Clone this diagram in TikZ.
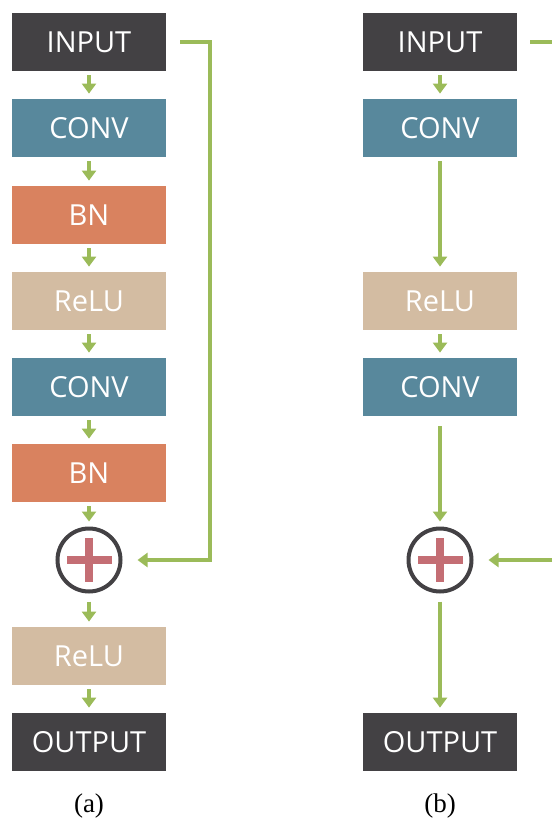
\documentclass[tikz,border=0pt]{standalone}
\usepackage{fontspec}
\setmainfont{Liberation Serif}
\newfontfamily\boxfont{Open Sans}
\usetikzlibrary{arrows.meta}

\definecolor{iodark}{HTML}{434144}
\definecolor{convblue}{HTML}{58889C}
\definecolor{bnorange}{HTML}{D9825F}
\definecolor{relutan}{HTML}{D3BCA2}
\definecolor{arrgreen}{HTML}{9BBB59}
\definecolor{plusred}{HTML}{C46E74}

\tikzset{
    layer/.style={minimum width=77pt, minimum height=29pt, inner sep=0pt,
        text=white, font=\boxfont\fontsize{14.5}{17}\selectfont},
    io/.style={layer, fill=iodark},
    conv/.style={layer, fill=convblue},
    bn/.style={layer, fill=bnorange},
    relu/.style={layer, fill=relutan},
    addnode/.style={circle, draw=iodark, line width=2pt, minimum size=31.5pt, inner sep=0pt,
        path picture={
            \fill[plusred] ([xshift=-11.25pt,yshift=-2pt]path picture bounding box.center) rectangle ++(22.5pt,4pt);
            \fill[plusred] ([xshift=-2pt,yshift=-11pt]path picture bounding box.center) rectangle ++(4pt,22pt);
        }},
    arr/.style={draw=arrgreen, line width=2pt, -{Triangle[width=7pt,length=5pt]},
        shorten <=2pt, shorten >=2.5pt},
    skip/.style={draw=arrgreen, line width=2pt, -{Triangle[width=7pt,length=5pt]}},
    caption/.style={font=\fontsize{13.5}{16}\selectfont}
}

\begin{document}
\begin{tikzpicture}[x=0.5pt, y=-0.5pt]
    \useasboundingbox (0,0) rectangle (552,823);

    % (a) residual block
    \node[io]   (inA)   at (89,42)  {INPUT};
    \node[conv] (cvA1)  at (89,128) {CONV};
    \node[bn]   (bnA1)  at (89,215) {BN};
    \node[relu] (rlA1)  at (89,301) {ReLU};
    \node[conv] (cvA2)  at (89,387) {CONV};
    \node[bn]   (bnA2)  at (89,473) {BN};
    \node[addnode] (addA) at (89,560) {};
    \node[relu] (rlA2)  at (89,656) {ReLU};
    \node[io]   (outA)  at (89,742) {OUTPUT};
    \node[caption] (capA) at (89,806) {(a)};

    \draw[arr] (inA) -- (cvA1);
    \draw[arr] (cvA1) -- (bnA1);
    \draw[arr] (bnA1) -- (rlA1);
    \draw[arr] (rlA1) -- (cvA2);
    \draw[arr] (cvA2) -- (bnA2);
    \draw[arr] (bnA2) -- (addA);
    \draw[arr, shorten <=4pt] (addA) -- (rlA2);
    \draw[arr] (rlA2) -- (outA);

    \coordinate (skA1) at (180,42);
    \coordinate (skA2) at (210,42);
    \coordinate (skA3) at (210,560);
    \draw[skip, shorten >=7.5pt] (skA1) -- (skA2) -- (skA3) -- (addA);

    % (b) simplified block
    \node[io]   (inB)   at (440,42)  {INPUT};
    \node[conv] (cvB1)  at (440,128) {CONV};
    \node[relu] (rlB1)  at (440,301) {ReLU};
    \node[conv] (cvB2)  at (440,387) {CONV};
    \node[addnode] (addB) at (440,560) {};
    \node[io]   (outB)  at (440,742) {OUTPUT};
    \node[caption] (capB) at (440,806) {(b)};

    \draw[arr] (inB) -- (cvB1);
    \draw[arr] (cvB1) -- (rlB1);
    \draw[arr] (rlB1) -- (cvB2);
    \draw[arr, shorten <=5pt] (cvB2) -- (addB);
    \draw[arr, shorten <=4pt] (addB) -- (outB);

    \coordinate (skB1) at (530,42);
    \coordinate (skB2) at (552,42);
    \coordinate (skB3) at (552,560);
    \draw[draw=arrgreen, line width=2pt] (skB1) -- (skB2);
    \draw[skip, shorten >=7.5pt] (skB3) -- (addB);
\end{tikzpicture}
\end{document}
